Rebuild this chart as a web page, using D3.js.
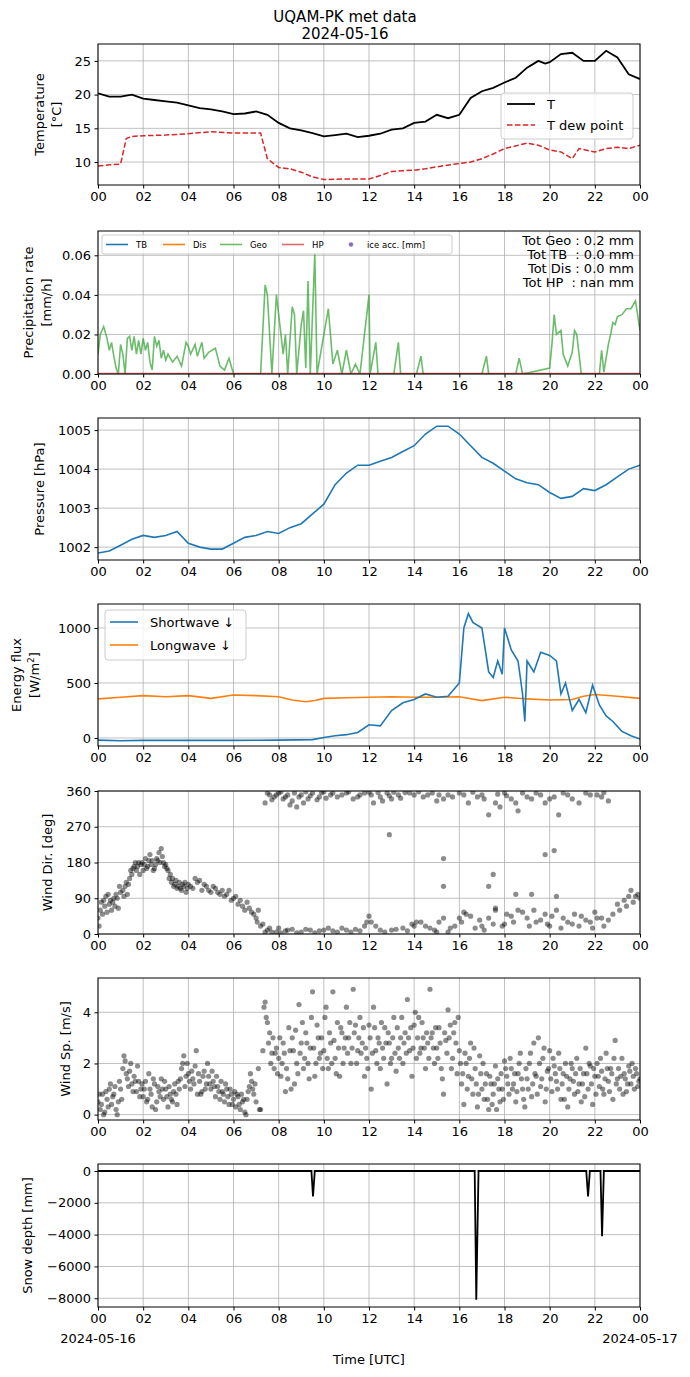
<!DOCTYPE html>
<html><head><meta charset="utf-8">
<script src="https://cdn.jsdelivr.net/npm/d3@7"></script>
<style>body{margin:0;background:#fff}text{font-family:"DejaVu Sans",sans-serif}</style>
</head><body><svg id="c" width="690" height="1377"></svg>
<script>
const xTicks=[0,2,4,6,8,10,12,14,16,18,20,22,24];
const xTickLabels=["00","02","04","06","08","10","12","14","16","18","20","22","00"];
const tempT=[[0,20.2],[0.5,19.7],[1,19.7],[1.5,20.0],[2,19.4],[2.5,19.2],[3,19.0],[3.5,18.8],[4,18.4],[4.5,18.0],[5,17.8],[5.5,17.5],[6,17.1],[6.5,17.2],[7,17.5],[7.5,17.0],[8,15.8],[8.5,15.0],[9,14.7],[9.5,14.3],[10,13.8],[10.5,14.0],[11,14.2],[11.5,13.7],[12,13.9],[12.5,14.2],[13,14.8],[13.5,15.0],[14,15.8],[14.5,16.0],[15,17.0],[15.5,16.5],[16,17.0],[16.5,19.5],[17,20.5],[17.5,21.0],[18,21.8],[18.5,22.5],[19,24.0],[19.5,25.0],[19.8,24.6],[20,24.8],[20.5,26.0],[21,26.2],[21.5,25.0],[22,25.0],[22.5,26.5],[23,25.5],[23.5,23.0],[24,22.3]];
const tempTd=[[0,9.4],[0.5,9.6],[1,9.7],[1.25,13.5],[1.5,13.8],[2,13.9],[3,14.0],[4,14.2],[5,14.5],[6,14.3],[7.2,14.3],[7.5,10.5],[8,9.2],[8.5,9.0],[9,8.5],[9.5,7.8],[10,7.4],[11,7.5],[12,7.5],[12.5,8.0],[13,8.6],[14,8.8],[14.5,9.0],[15,9.3],[16,9.8],[16.5,10.0],[17,10.5],[17.5,11.2],[18,12.0],[19,12.8],[19.5,12.5],[20,11.8],[20.5,11.5],[21,10.5],[21.3,12.0],[22,11.5],[22.5,12.0],[23,12.2],[23.5,12.0],[24,12.5]];
const precipGeo=[[0,0.01],[0.1,0.02],[0.25,0.024],[0.4,0.018],[0.5,0.012],[0.6,0.016],[0.7,0.009],[0.8,0.003],[0.9,0],[1.0,0.015],[1.1,0.01],[1.2,0],[1.3,0.018],[1.4,0.019],[1.5,0.012],[1.6,0.019],[1.7,0.01],[1.8,0.017],[1.9,0.01],[2.0,0.018],[2.1,0.012],[2.2,0.016],[2.3,0.006],[2.4,0.002],[2.5,0.019],[2.6,0.014],[2.7,0.017],[2.8,0.008],[2.9,0.012],[3.0,0.007],[3.1,0.01],[3.3,0.006],[3.5,0.009],[3.7,0.004],[3.9,0.016],[4.0,0.014],[4.1,0.01],[4.3,0.015],[4.4,0.009],[4.6,0.016],[4.7,0.008],[4.9,0.011],[5.2,0.013],[5.4,0.004],[5.6,0.002],[5.8,0.008],[6.0,0],[7.2,0],[7.4,0.045],[7.5,0.04],[7.7,0],[7.9,0.04],[8.0,0.03],[8.2,0.01],[8.3,0.02],[8.4,0],[8.6,0.034],[8.7,0.03],[8.8,0],[9.0,0.025],[9.1,0.032],[9.2,0.003],[9.3,0.047],[9.4,0],[9.6,0.061],[9.7,0],[10.2,0.033],[10.4,0.005],[10.6,0.012],[10.8,0],[11.0,0.012],[11.2,0],[11.4,0.005],[11.6,0],[12.0,0.040],[12.05,0],[12.3,0.016],[12.4,0],[13.1,0],[13.3,0.016],[13.4,0],[14.1,0],[14.3,0.009],[14.4,0],[17.0,0],[17.2,0.009],[17.3,0],[18.5,0],[18.65,0.008],[18.8,0],[20.0,0.003],[20.1,0.015],[20.2,0.03],[20.3,0.02],[20.5,0.022],[20.6,0.01],[20.8,0.004],[21.0,0.011],[21.1,0.022],[21.2,0.02],[21.4,0],[22.2,0],[22.3,0.012],[22.4,0.001],[22.6,0.015],[22.7,0.02],[22.8,0.026],[22.9,0.025],[23.0,0.029],[23.2,0.03],[23.4,0.033],[23.6,0.033],[23.8,0.037],[24,0.022]];
const pressure=[[0,1001.85],[0.5,1001.9],[1,1002.05],[1.5,1002.2],[2,1002.3],[2.5,1002.25],[3,1002.3],[3.5,1002.4],[4,1002.1],[4.5,1002.0],[5,1001.95],[5.5,1001.95],[6,1002.1],[6.5,1002.25],[7,1002.3],[7.5,1002.4],[8,1002.35],[8.5,1002.5],[9,1002.6],[9.5,1002.85],[10,1003.1],[10.5,1003.6],[11,1003.9],[11.5,1004.1],[12,1004.1],[12.5,1004.2],[13,1004.3],[13.5,1004.45],[14,1004.6],[14.5,1004.9],[15,1005.1],[15.5,1005.1],[16,1004.9],[16.5,1004.6],[17,1004.3],[17.5,1004.15],[18,1003.95],[18.5,1003.75],[19,1003.65],[19.5,1003.6],[20,1003.4],[20.5,1003.25],[21,1003.3],[21.5,1003.5],[22,1003.45],[22.5,1003.6],[23,1003.8],[23.5,1004.0],[24,1004.1]];
const shortwave=[[0,-20],[1,-25],[2,-22],[4,-22],[6,-22],[8,-20],[9.5,-15],[10,5],[10.5,20],[11,30],[11.5,50],[12,120],[12.5,110],[13,250],[13.5,320],[14,350],[14.5,400],[15,370],[15.5,380],[16,500],[16.2,1000],[16.4,1130],[16.6,1050],[17,1000],[17.3,600],[17.5,550],[17.7,700],[17.9,580],[18.0,1000],[18.3,800],[18.6,700],[18.8,400],[18.9,150],[19.0,700],[19.3,600],[19.6,780],[20,750],[20.3,700],[20.5,400],[20.7,500],[21,250],[21.3,350],[21.6,230],[21.9,480],[22.2,300],[22.5,200],[22.8,150],[23.2,60],[23.6,20],[24,-10]];
const longwave=[[0,355],[1,370],[2,385],[3,375],[4,385],[5,360],[6,390],[7,385],[8,375],[8.6,345],[9.2,330],[9.6,340],[10,360],[11,365],[12,370],[13,375],[14,370],[15,370],[16,375],[17,340],[18,370],[19,355],[20,345],[21,350],[21.5,380],[22,395],[23,380],[24,360]];
const windDir=[[0,40],[0.1,60],[0.15,80],[0.2,50],[0.3,70],[0.35,95],[0.4,55],[0.5,75],[0.55,85],[0.6,60],[0.7,90],[0.75,70],[0.8,100],[0.9,65],[1.0,105],[1.1,110],[1.2,120],[1.3,100],[1.4,140],[1.5,150],[1.6,170],[1.7,160],[1.8,180],[1.9,175],[2.0,160],[2.1,190],[2.2,170],[2.3,200],[2.4,185],[2.5,165],[2.6,190],[2.7,205],[2.8,215],[2.9,180],[3.0,175],[3.1,160],[3.2,150],[3.3,140],[3.4,125],[3.5,115],[3.6,130],[3.7,110],[3.8,120],[3.9,105],[4.0,125],[4.2,115],[4.4,130],[4.5,135],[4.6,110],[4.8,120],[5.0,105],[5.2,115],[5.4,100],[5.6,95],[5.8,110],[6.0,90],[6.2,75],[6.4,70],[6.6,80],[6.8,55],[7.0,40],[7.1,60],[7.3,25],[7.5,10],[7.7,5],[8.0,15],[8.3,8],[8.6,12],[9.0,5],[9.4,10],[9.8,8],[10.2,15],[10.6,5],[11.0,10],[11.4,12],[11.8,20],[12.0,45],[12.1,30],[12.5,10],[13,10],[13.5,15],[14,20],[14.3,30],[14.7,15],[15,5],[15.3,40],[15.6,15],[16,40],[16.2,55],[16.5,45],[17,20],[17.3,40],[17.6,60],[18,25],[18.3,45],[18.6,60],[19,40],[19.4,30],[19.8,50],[20,20],[20.3,60],[20.6,40],[21,25],[21.4,45],[21.8,30],[22,55],[22.3,40],[22.6,35],[23,75],[23.3,85],[23.6,110],[23.8,95],[24,90],
[7.4,330],[7.6,350],[7.8,345],[8,355],[8.2,340],[8.4,350],[8.6,335],[8.8,320],[9,350],[9.3,340],[9.5,355],[9.8,345],[10,358],[10.3,350],[10.6,345],[11,355],[11.3,340],[11.6,350],[12,357],[12.2,330],[12.5,345],[12.8,355],[13,340],[13.3,350],[13.6,356],[14,350],[14.4,345],[14.8,355],[15,335],[15.3,340],[15.5,350],[16,355],[16.4,330],[16.8,345],[17,350],[17.3,300],[17.6,330],[17.8,320],[18,355],[18.3,340],[18.6,310],[19,345],[19.4,355],[19.8,330],[20,340],[20.4,300],[20.8,350],[21.3,330],[21.8,350],[22.3,345],[22.6,335],
[12.9,250],[15.3,190],[15.3,120],[17.3,120],[17.5,150],[19.8,200],[20.2,210],[17.6,65],[18.5,100],[19.2,100],[20.3,95]];
const windDirExtra=[[0.05,20],[0.25,85],[0.45,100],[0.65,80],[0.85,90],[0.95,120],[1.15,95],[1.25,130],[1.35,125],[1.45,160],[1.55,165],[1.65,180],[1.75,170],[1.85,150],[1.95,180],[2.05,175],[2.15,165],[2.25,185],[2.35,175],[2.45,160],[2.55,175],[2.65,185],[2.75,180],[2.85,195],[2.95,170],[3.05,165],[3.15,140],[3.25,130],[3.35,120],[3.45,135],[3.55,120],[3.65,115],[3.75,125],[3.85,130],[3.95,115],[4.1,120],[4.3,140],[4.7,125],[4.9,110],[5.1,120],[5.3,105],[5.5,110],[5.7,100],[5.9,85],[6.1,95],[6.3,85],[6.5,60],[6.7,65],[6.9,50],[7.05,30],[7.2,20],[7.4,5],[7.6,15],[7.9,5],[8.1,3],[8.4,10],[8.8,3],[9.2,12],[9.6,3],[10,10],[10.4,8],[10.8,15],[11.2,5],[11.6,8],[11.9,30],[12.3,20],[12.7,5],[13.2,12],[13.7,8],[13.9,25],[14.1,30],[14.5,20],[14.9,10],[15.1,30],[15.5,5],[15.8,20],[16.1,30],[16.3,50],[16.7,15],[16.9,35],[17.1,10],[17.5,25],[17.9,20],[18.1,50],[18.4,30],[18.8,55],[19.1,20],[19.3,60],[19.6,35],[19.9,25],[20.1,45],[20.5,15],[20.8,30],[21.1,50],[21.3,20],[21.6,35],[21.9,15],[22.1,40],[22.4,20],[22.8,50],[23.1,60],[23.4,70],[23.5,95],[23.7,80],[23.9,100],
[7.5,355],[7.7,338],[7.9,350],[8.1,358],[8.3,345],[8.5,325],[8.7,355],[8.9,345],[9.1,330],[9.2,358],[9.4,348],[9.7,338],[9.9,356],[10.1,342],[10.4,355],[10.8,350],[11.1,358],[11.5,345],[11.8,355],[12.1,350],[12.4,356],[12.6,335],[12.9,348],[13.1,357],[13.4,342],[13.8,355],[14.2,358],[14.6,350],[15.1,350],[15.7,345],[16.2,350],[16.6,357],[17.1,340],[17.7,352],[18.1,348],[18.5,330],[18.8,355],[19.2,340],[19.6,350],[20.2,345],[20.6,355],[21,340],[21.6,355],[22.1,350],[22.4,356]];
const windSp=[[0,0.5],[0.1,0.2],[0.2,0.8],[0.3,0.1],[0.4,0.6],[0.5,1.0],[0.6,0.4],[0.7,0.8],[0.8,0.2],[0.9,0.5],[1.0,1.0],[1.1,1.8],[1.2,2.1],[1.3,1.4],[1.4,1.7],[1.5,1.2],[1.6,1.5],[1.7,0.9],[1.8,1.3],[1.9,1.0],[2.0,0.7],[2.1,1.3],[2.2,0.6],[2.3,1.0],[2.4,0.3],[2.5,1.2],[2.6,0.5],[2.7,0.9],[2.8,1.4],[2.9,0.6],[3.0,1.0],[3.1,0.3],[3.2,0.8],[3.3,0.5],[3.4,1.2],[3.5,0.4],[3.6,1.0],[3.7,1.8],[3.8,2.3],[3.9,1.5],[4.0,1.6],[4.1,1.0],[4.2,1.4],[4.3,1.9],[4.4,0.8],[4.5,1.3],[4.6,0.9],[4.7,1.7],[4.8,1.2],[4.9,1.5],[5.0,1.0],[5.1,1.3],[5.2,0.7],[5.3,1.1],[5.4,0.6],[5.5,0.9],[5.6,0.5],[5.7,1.0],[5.8,0.4],[5.9,0.8],[6.0,0.6],[6.1,0.3],[6.2,0.7],[6.3,0.2],[6.4,0.5],[6.5,0.1],[6.6,0.6],[6.7,1.1],[6.8,1.3],[6.9,0.8],[7.0,0.5],[7.1,1.8],[7.2,0.2],[7.3,2.5],[7.4,4.4],[7.5,3.6],[7.6,3.2],[7.7,2.4],[7.8,1.8],[7.9,2.6],[8.0,2.2],[8.1,1.5],[8.2,2.8],[8.3,0.9],[8.4,1.4],[8.5,2.5],[8.6,3.0],[8.7,1.2],[8.8,2.0],[8.9,4.3],[9.0,2.8],[9.1,1.8],[9.2,3.2],[9.3,2.0],[9.4,2.6],[9.5,4.8],[9.6,1.5],[9.7,3.5],[9.8,2.2],[9.9,3.0],[10.0,2.5],[10.1,4.2],[10.2,1.8],[10.3,2.8],[10.4,4.8],[10.5,2.2],[10.6,3.6],[10.7,1.5],[10.8,3.2],[10.9,2.6],[11.0,4.2],[11.1,3.0],[11.2,2.0],[11.3,4.9],[11.4,3.5],[11.5,2.5],[11.6,3.8],[11.7,2.8],[11.8,1.5],[11.9,2.2],[12.0,3.5],[12.1,1.0],[12.2,4.2],[12.3,2.5],[12.4,3.0],[12.5,1.8],[12.6,2.6],[12.7,3.4],[12.8,1.2],[12.9,2.8],[13.0,2.2],[13.1,3.8],[13.2,1.7],[13.3,2.6],[13.4,3.0],[13.5,2.0],[13.6,3.2],[13.7,4.5],[13.8,2.5],[13.9,1.5],[14.0,3.5],[14.1,2.2],[14.2,3.8],[14.3,2.6],[14.4,3.0],[14.5,1.8],[14.6,2.8],[14.7,4.9],[14.8,3.2],[14.9,2.0],[15.0,2.6],[15.1,3.4],[15.2,1.8],[15.3,0.8],[15.4,2.9],[15.5,4.1],[15.6,3.5],[15.7,2.2],[15.8,3.6],[15.9,1.6],[16.0,2.5],[16.1,1.2],[16.2,0.4],[16.3,2.0],[16.4,1.5],[16.5,2.8],[16.6,0.8],[16.7,1.8],[16.8,0.3],[16.9,2.3],[17.0,1.0],[17.1,0.6],[17.2,1.6],[17.3,0.2],[17.4,1.2],[17.5,0.8],[17.6,1.9],[17.7,1.4],[17.8,0.5],[17.9,1.0],[18.0,2.1],[18.1,1.5],[18.2,0.8],[18.3,1.8],[18.4,1.2],[18.5,0.5],[18.6,1.6],[18.7,2.4],[18.8,1.0],[18.9,0.3],[19.0,1.4],[19.1,2.0],[19.2,0.7],[19.3,2.8],[19.4,1.5],[19.5,3.0],[19.6,1.1],[19.7,2.2],[19.8,0.5],[19.9,1.7],[20.0,2.5],[20.1,0.9],[20.2,1.9],[20.3,1.3],[20.4,2.4],[20.5,0.6],[20.6,1.6],[20.7,2.0],[20.8,0.3],[20.9,1.4],[21.0,1.8],[21.1,0.8],[21.2,2.2],[21.3,1.2],[21.4,0.5],[21.5,1.6],[21.6,2.6],[21.7,1.0],[21.8,1.9],[21.9,0.4],[22.0,1.5],[22.1,2.0],[22.2,1.1],[22.3,1.7],[22.4,0.8],[22.5,2.4],[22.6,1.3],[22.7,1.8],[22.8,0.6],[22.9,2.9],[23.0,1.4],[23.1,1.0],[23.2,2.2],[23.3,1.6],[23.4,0.9],[23.5,1.9],[23.6,1.2],[23.7,1.5],[23.8,1.8],[23.9,1.1],[24,1.4]];
const windSpExtra=[[0.05,0.8],[0.15,0.4],[0.25,0.0],[0.35,0.9],[0.45,0.3],[0.55,1.2],[0.65,0.7],[0.75,1.1],[0.85,0.0],[0.95,1.3],[1.05,0.6],[1.15,2.3],[1.25,1.6],[1.35,1.1],[1.45,2.0],[1.55,0.9],[1.65,1.3],[1.75,1.9],[1.85,0.7],[1.95,1.2],[2.05,1.0],[2.15,0.5],[2.25,1.6],[2.35,0.8],[2.45,1.4],[2.55,0.2],[2.65,1.1],[2.75,0.7],[2.85,1.0],[2.95,1.3],[3.05,0.7],[3.15,1.1],[3.25,0.6],[3.35,0.9],[3.45,0.8],[3.55,1.3],[3.65,1.4],[3.75,2.0],[3.85,1.1],[3.95,2.0],[4.05,1.3],[4.15,1.7],[4.25,1.2],[4.35,2.5],[4.45,1.6],[4.55,0.8],[4.65,1.5],[4.75,1.0],[4.85,2.0],[4.95,1.2],[5.05,1.7],[5.15,1.1],[5.25,1.5],[5.35,0.9],[5.45,1.3],[5.55,0.8],[5.65,1.2],[5.75,0.7],[5.85,1.0],[5.95,0.4],[6.05,0.9],[6.15,0.8],[6.25,0.4],[6.35,0.8],[6.45,0.6],[6.55,0.0],[6.65,0.9],[6.75,1.6],[6.85,1.0],[6.95,1.2],[7.15,0.2],[7.35,4.2],[7.45,3.8],[7.55,2.8],[7.65,2.0],[7.75,3.0],[7.85,2.4],[7.95,1.6],[8.05,3.0],[8.15,2.0],[8.25,2.4],[8.35,1.8],[8.45,3.4],[8.55,1.0],[8.65,2.5],[8.75,3.3],[8.85,1.6],[8.95,2.4],[9.05,3.6],[9.15,2.2],[9.25,2.8],[9.35,1.4],[9.45,3.8],[9.55,2.6],[9.65,2.0],[9.75,3.0],[9.85,2.4],[9.95,1.8],[10.05,3.8],[10.15,2.2],[10.25,3.2],[10.35,2.0],[10.45,2.9],[10.55,1.6],[10.65,2.6],[10.75,3.4],[10.85,2.0],[10.95,3.0],[11.05,2.4],[11.15,3.6],[11.25,2.6],[11.35,3.2],[11.45,2.0],[11.55,3.0],[11.65,2.4],[11.75,3.4],[11.85,2.6],[11.95,1.8],[12.05,3.0],[12.15,2.4],[12.25,3.4],[12.35,2.0],[12.45,2.8],[12.55,3.6],[12.65,2.2],[12.75,2.8],[12.85,3.2],[12.95,2.0],[13.05,3.0],[13.15,2.4],[13.25,3.4],[13.35,2.2],[13.45,3.8],[13.55,2.8],[13.65,2.4],[13.75,3.0],[13.85,3.4],[13.95,2.6],[14.05,4.0],[14.15,3.0],[14.25,2.4],[14.35,3.6],[14.45,2.6],[14.55,3.2],[14.65,2.2],[14.75,3.0],[14.85,2.6],[14.95,3.4],[15.05,2.2],[15.15,2.8],[15.25,1.4],[15.35,3.2],[15.45,2.4],[15.55,3.0],[15.65,1.8],[15.75,3.2],[15.85,2.8],[15.95,3.8],[16.05,2.0],[16.15,1.6],[16.25,2.4],[16.35,1.0],[16.45,2.2],[16.55,1.4],[16.65,2.6],[16.75,1.2],[16.85,0.8],[16.95,1.6],[17.05,2.0],[17.15,1.2],[17.25,0.6],[17.35,1.5],[17.45,0.4],[17.55,1.2],[17.65,0.2],[17.75,1.0],[17.85,1.6],[17.95,0.6],[18.05,1.8],[18.15,1.2],[18.25,2.2],[18.35,1.0],[18.45,1.6],[18.55,0.9],[18.65,2.0],[18.75,1.4],[18.85,0.6],[18.95,1.8],[19.05,1.0],[19.15,2.4],[19.25,1.2],[19.35,1.6],[19.45,0.8],[19.55,2.0],[19.65,1.4],[19.75,2.6],[19.85,1.0],[19.95,1.8],[20.05,1.4],[20.15,2.2],[20.25,1.6],[20.35,1.0],[20.45,1.8],[20.55,1.2],[20.65,0.6],[20.75,1.5],[20.85,1.0],[20.95,2.0],[21.05,1.3],[21.15,1.6],[21.25,0.9],[21.35,1.8],[21.45,1.2],[21.55,0.7],[21.65,1.6],[21.75,2.0],[21.85,1.2],[21.95,1.8],[22.05,0.8],[22.15,1.5],[22.25,2.2],[22.35,1.0],[22.45,1.4],[22.55,1.8],[22.65,0.9],[22.75,1.6],[22.85,2.2],[22.95,1.2],[23.05,1.8],[23.15,1.5],[23.25,0.8],[23.35,1.4],[23.45,1.2],[23.55,1.7],[23.65,2.0],[23.75,1.0],[23.85,1.6],[23.95,1.3]];
const snow=[[0,0],[9.45,0],[9.52,-1600],[9.6,0],[16.68,0],[16.75,-8100],[16.85,0],[21.62,0],[21.7,-1600],[21.78,0],[22.25,0],[22.32,-4100],[22.4,0],[24,0]];

const svg=d3.select("#c");
const L=98,R=640;
const x=d3.scaleLinear().domain([0,24]).range([L,R]);
function panel(top,bot,dom,ticks,fmt){
  const y=d3.scaleLinear().domain(dom).range([bot,top]);
  const g=svg.append("g");
  g.append("g").selectAll("line").data(xTicks).join("line").attr("x1",d=>x(d)).attr("x2",d=>x(d)).attr("y1",top).attr("y2",bot).attr("stroke","#b0b0b0").attr("stroke-width",0.8);
  g.append("g").selectAll("line").data(ticks).join("line").attr("x1",L).attr("x2",R).attr("y1",d=>y(d)).attr("y2",d=>y(d)).attr("stroke","#b0b0b0").attr("stroke-width",0.8);
  const ga=g.append("g").attr("transform",`translate(0,${bot})`).call(d3.axisBottom(x).tickValues(xTicks).tickFormat((d,i)=>xTickLabels[i]).tickSize(3.5).tickPadding(3.5));
  const gy=g.append("g").attr("transform",`translate(${L},0)`).call(d3.axisLeft(y).tickValues(ticks).tickFormat(fmt||(d=>d)).tickSize(3.5).tickPadding(3.5));
  [ga,gy].forEach(a=>{a.select(".domain").remove();a.selectAll("text").attr("font-size",13).attr("fill","#000").attr("font-family","DejaVu Sans");a.selectAll("line").attr("stroke","#000");});
  const cid="c"+top;
  svg.append("clipPath").attr("id",cid).append("rect").attr("x",L).attr("y",top).attr("width",R-L).attr("height",bot-top);
  const pg=svg.append("g").attr("clip-path",`url(#${cid})`);
  const frame=()=>svg.append("rect").attr("x",L).attr("y",top).attr("width",R-L).attr("height",bot-top).attr("fill","none").attr("stroke","#000").attr("stroke-width",1);
  return {y,pg,frame,top,bot};
}
function ylab(lines,xs,top,bot){
  const cy=(top+bot)/2;
  lines.forEach((t,i)=>{svg.append("text").attr("transform",`translate(${xs[i]},${cy}) rotate(-90)`).attr("text-anchor","middle").attr("font-size",13).html(t);});
}
const line=(y)=>d3.line().x(d=>x(d[0])).y(d=>y(d[1]));

svg.append("text").attr("x",345).attr("y",22).attr("text-anchor","middle").attr("font-size",15).text("UQAM-PK met data");
svg.append("text").attr("x",345).attr("y",39).attr("text-anchor","middle").attr("font-size",15).text("2024-05-16");

let p=panel(44,185,[6.6,27.5],[10,15,20,25]);
p.pg.append("path").datum(tempTd).attr("d",line(p.y)).attr("fill","none").attr("stroke","#d62728").attr("stroke-width",1.5).attr("stroke-dasharray","5.5,2.4");
p.pg.append("path").datum(tempT).attr("d",line(p.y)).attr("fill","none").attr("stroke","#000").attr("stroke-width",1.8);
p.frame();
ylab(["Temperature","[°C]"],[44,61],44,185);
let lg=svg.append("g");
lg.append("rect").attr("x",501).attr("y",93).attr("width",132).attr("height",46).attr("rx",3).attr("fill","#fff").attr("fill-opacity",0.8).attr("stroke","#ccc");
lg.append("line").attr("x1",507).attr("x2",535).attr("y1",104).attr("y2",104).attr("stroke","#000").attr("stroke-width",1.8);
lg.append("line").attr("x1",507).attr("x2",535).attr("y1",125).attr("y2",125).attr("stroke","#d62728").attr("stroke-width",1.5).attr("stroke-dasharray","5.5,2.4");
lg.append("text").attr("x",547).attr("y",109).attr("font-size",13).text("T");
lg.append("text").attr("x",547).attr("y",130).attr("font-size",13).text("T dew point");

p=panel(231,374,[0,0.0723],[0,0.02,0.04,0.06],d3.format(".2f"));
p.pg.append("path").datum(precipGeo).attr("d",line(p.y)).attr("fill","none").attr("stroke","#2ca02c").attr("stroke-opacity",0.7).attr("stroke-width",1.6);
p.pg.append("line").attr("x1",L).attr("x2",R).attr("y1",p.y(0)-0.5).attr("y2",p.y(0)-0.5).attr("stroke","#d62728").attr("stroke-opacity",0.7).attr("stroke-width",1.6);
p.frame();
ylab(["Precipitation rate","[mm/h]"],[33,51],231,374);
lg=svg.append("g");
lg.append("rect").attr("x",102).attr("y",235).attr("width",350).attr("height",19).attr("rx",2).attr("fill","#fff").attr("fill-opacity",0.8).attr("stroke","#ccc");
const items=[["TB","#1f77b4",106],["Dis","#ff7f0e",163],["Geo","#2ca02c",220],["HP","#d62728",282]];
items.forEach(([t,c,xx])=>{lg.append("line").attr("x1",xx).attr("x2",xx+22).attr("y1",244.5).attr("y2",244.5).attr("stroke",c).attr("stroke-width",1.6).attr("stroke-opacity",t=="TB"||t=="Dis"?1:0.7);lg.append("text").attr("x",xx+30).attr("y",248).attr("font-size",8.5).text(t);});
lg.append("circle").attr("cx",351).attr("cy",244.5).attr("r",2.2).attr("fill","#9467bd");
lg.append("text").attr("x",367).attr("y",248).attr("font-size",8.5).text("ice acc. [mm]");
["Tot Geo : 0.2 mm","Tot TB  : 0.0 mm","Tot Dis : 0.0 mm","Tot HP  : nan mm"].forEach((t,i)=>svg.append("text").attr("x",634).attr("y",245+i*14).attr("text-anchor","end").attr("font-size",13).style("white-space","pre").text(t));

p=panel(418,560,[1001.67,1005.31],[1002,1003,1004,1005]);
p.pg.append("path").datum(pressure).attr("d",line(p.y)).attr("fill","none").attr("stroke","#1f77b4").attr("stroke-width",1.6);
p.frame();
ylab(["Pressure [hPa]"],[44],418,560);

p=panel(604,746,[-73,1218],[0,500,1000]);
p.pg.append("path").datum(longwave).attr("d",line(p.y)).attr("fill","none").attr("stroke","#ff7f0e").attr("stroke-width",1.6);
p.pg.append("path").datum(shortwave).attr("d",line(p.y)).attr("fill","none").attr("stroke","#1f77b4").attr("stroke-width",1.6);
p.frame();
ylab(["Energy flux","[W/m<tspan dy='-5' font-size='9'>2</tspan><tspan dy='5'>]</tspan>"],[21,39],604,746);
lg=svg.append("g");
lg.append("rect").attr("x",105).attr("y",610).attr("width",141).attr("height",50).attr("rx",3).attr("fill","#fff").attr("fill-opacity",0.8).attr("stroke","#ccc");
lg.append("line").attr("x1",110).attr("x2",138).attr("y1",622).attr("y2",622).attr("stroke","#1f77b4").attr("stroke-width",1.6);
lg.append("line").attr("x1",110).attr("x2",138).attr("y1",645).attr("y2",645).attr("stroke","#ff7f0e").attr("stroke-width",1.6);
lg.append("text").attr("x",150).attr("y",627).attr("font-size",13).text("Shortwave  ↓");
lg.append("text").attr("x",150).attr("y",650).attr("font-size",13).text("Longwave  ↓");

p=panel(791,934,[0,360],[0,90,180,270,360]);
p.pg.selectAll("circle").data(windDir.concat(windDirExtra)).join("circle").attr("cx",d=>x(d[0])).attr("cy",d=>p.y(d[1])).attr("r",2.6).attr("fill","#000").attr("fill-opacity",0.45);
p.frame();
ylab(["Wind Dir. [deg]"],[52],791,934);

p=panel(978,1120,[-0.21,5.34],[0,2,4]);
p.pg.selectAll("circle").data(windSp.concat(windSpExtra)).join("circle").attr("cx",d=>x(d[0])).attr("cy",d=>p.y(d[1])).attr("r",2.6).attr("fill","#000").attr("fill-opacity",0.45);
p.frame();
ylab(["Wind Sp. [m/s]"],[70],978,1120);

p=panel(1164,1307,[-8550,440],[0,-2000,-4000,-6000,-8000],d3.format("d"));
p.pg.append("path").datum(snow).attr("d",line(p.y)).attr("fill","none").attr("stroke","#000").attr("stroke-width",1.8);
p.frame();
ylab(["Snow depth [mm]"],[32],1164,1307);
svg.append("text").attr("x",98).attr("y",1343).attr("text-anchor","middle").attr("font-size",13).text("2024-05-16");
svg.append("text").attr("x",640).attr("y",1343).attr("text-anchor","middle").attr("font-size",13).text("2024-05-17");
svg.append("text").attr("x",369).attr("y",1364).attr("text-anchor","middle").attr("font-size",13).text("Time [UTC]");
svg.selectAll("text").each(function(){const t=d3.select(this);if(!t.select("tspan").node()){const s=t.text();if(/^-\d/.test(s))t.text(s.replace("-","−"));}});
</script></body></html>
